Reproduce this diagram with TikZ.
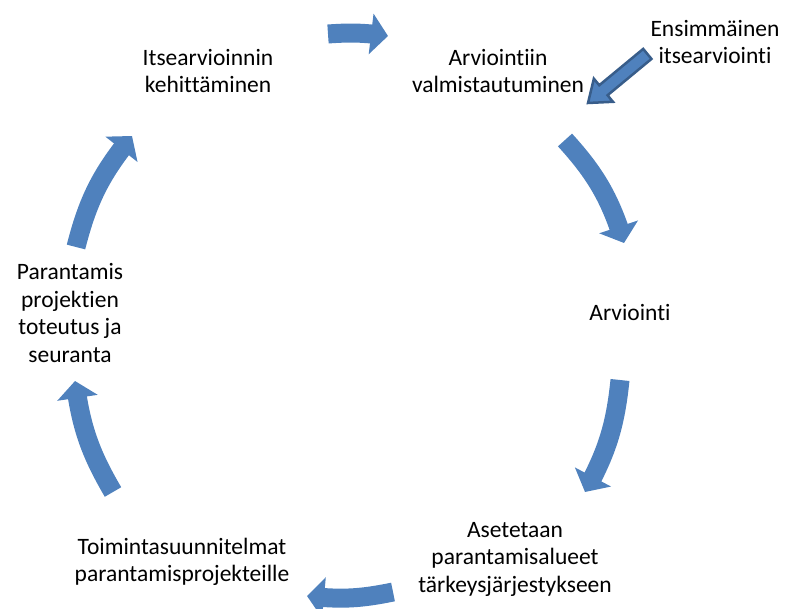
\documentclass[tikz,border=0pt]{standalone}
\usepackage{fontspec}
\setmainfont{Carlito}[Ligatures=NoCommon]
\usetikzlibrary{arrows.meta,bending}
\definecolor{cycblue}{HTML}{4F81BD}
\definecolor{darkblue}{HTML}{385D8A}
\tikzset{
  lbl/.style={align=center, inner sep=0pt, font=\fontsize{23.5}{27.5}\selectfont, text=black},
  cyc/.style={line width=19pt, draw=cycblue, -{Triangle[width=40pt,length=17pt]}},
  entry/.style={fill=cycblue, draw=darkblue, line width=2.5pt, line join=miter}
}
\begin{document}
\begin{tikzpicture}[x=1pt,y=1pt]
\useasboundingbox (0,0) rectangle (790,608);

% stage labels
\node[lbl] (first) at (715,566) {Ensimmäinen\\itsearviointi};
\node[lbl] (prep)  at (498,537) {Arviointiin\\valmistautuminen};
\node[lbl] (eval)  at (630,295) {Arviointi};
\node[lbl] (prio)  at (515,49)  {Asetetaan\\parantamisalueet\\tärkeysjärjestykseen};
\node[lbl] (plan)  at (182,46)  {Toimintasuunnitelmat\\parantamisprojekteille};
\node[lbl] (impl)  at (70,295)  {Parantamis\\projektien\\toteutus ja\\seuranta};
\node[lbl] (dev)   at (208,537) {Itsearvioinnin\\kehittäminen};

% end points of the cycle arrows
\coordinate (a1s) at (328,574); \coordinate (a1e) at (388,572);
\coordinate (a2s) at (565,468); \coordinate (a2e) at (624,365);
\coordinate (a3s) at (620,228); \coordinate (a3e) at (585,116);
\coordinate (a4s) at (393,16);  \coordinate (a4e) at (307,12);
\coordinate (a5s) at (113,116); \coordinate (a5e) at (75,227);
\coordinate (a6s) at (76,361);  \coordinate (a6e) at (132,472);

% cycle arrows
\draw[cyc] (a1s) to[bend left=6]    (a1e);
\draw[cyc] (a2s) to[bend left=12.5] (a2e);
\draw[cyc] (a3s) to[bend left=11.5] (a3e);
\draw[cyc] (a4s) to[bend left=9]    (a4e);
\draw[cyc] (a5s) to[bend left=11.5] (a5e);
\draw[cyc] (a6s) to[bend left=12.5] (a6e);

% entry arrow into the cycle
\coordinate (entrytip) at (588,505);
\begin{scope}[shift={(entrytip)}, rotate=39.6]
  \draw[entry] (0,0) -- (20,15) -- (20,6.5) -- (77,6.5) -- (77,-6.5) -- (20,-6.5) -- (20,-15) -- cycle;
\end{scope}
\end{tikzpicture}
\end{document}
